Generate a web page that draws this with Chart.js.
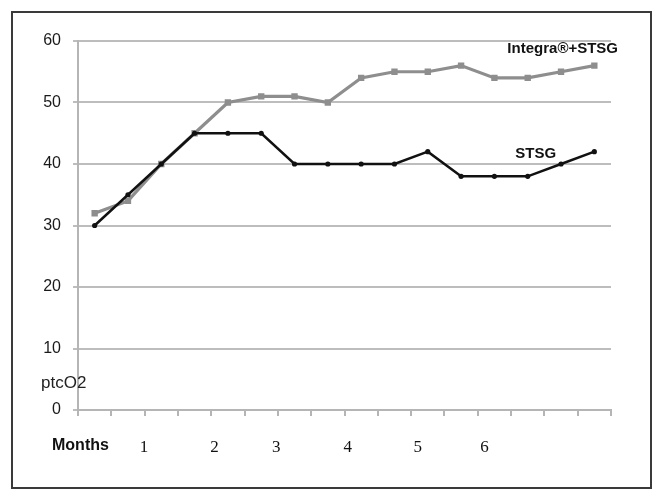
<!DOCTYPE html>
<html lang="en">
<head>
<meta charset="UTF-8">
<title>ptcO2 over months</title>
<script src="https://cdn.jsdelivr.net/npm/chart.js"></script>
<style>
    html, body { margin: 0; padding: 0; background: #fff; }
    #wrap { width: 661px; height: 501px; position: relative; }
</style>
</head>
<body>
<div id="wrap"><canvas id="myChart"></canvas></div>

<script>
// 16 measurement points along the time axis
const points = ['1','2','3','4','5','6','7','8','9','10','11','12','13','14','15','16'];
const integraValues = [32, 34, 40, 45, 50, 51, 51, 50, 54, 55, 55, 56, 54, 54, 55, 56];
const stsgValues    = [30, 35, 40, 45, 45, 45, 40, 40, 40, 40, 42, 38, 38, 38, 40, 42];
const yTicks = [0, 10, 20, 30, 40, 50, 60];
// month labels and where they sit on the axis (in category boundary units)
const monthLabels = ['1', '2', '3', '4', '5', '6'];
const monthAt     = [1.98, 4.1, 5.95, 8.1, 10.2, 12.2];

const sans = "'Liberation Sans Narrow', 'Liberation Sans', Arial, sans-serif";

// frame + free text (month labels, series names, axis words)
const extras = {
    id: 'extras',
    beforeDraw(chart) {
        const c = chart.ctx;
        c.save();
        c.fillStyle = '#fff';
        c.fillRect(0, 0, chart.width, chart.height);
        c.restore();
    },
    afterDraw(chart) {
        const c = chart.ctx;
        const x = chart.scales.x, y = chart.scales.y;
        c.save();
        // outer frame
        c.strokeStyle = '#3a3a3a';
        c.lineWidth = 2;
        c.strokeRect(12, 12, 639, 476);

        c.textBaseline = 'middle';
        c.fillStyle = '#111';
        // months word
        c.font = "bold 16px " + sans;
        c.textAlign = 'left';
        c.fillText('Months', 52, 446);
        // month numbers
        c.font = "17px 'Liberation Serif', 'Times New Roman', serif";
        c.textAlign = 'center';
        monthLabels.forEach((m, i) => {
            c.fillText(m, x.getPixelForValue(monthAt[i] - 0.5), 448);
        });
        // y axis word
        c.font = "17px " + sans;
        c.textAlign = 'left';
        c.fillStyle = '#222';
        c.fillText('ptcO2', 41, 383);
        // series names
        c.font = "bold 15px " + sans;
        c.textAlign = 'center';
        c.fillStyle = '#111';
        c.fillText('Integra\u00AE+STSG', x.getPixelForValue(14.05), y.getPixelForValue(58.8));
        c.fillText('STSG', x.getPixelForValue(13.24), y.getPixelForValue(41.6));
        c.restore();
    }
};

let ctx = document.getElementById('myChart').getContext('2d');
let myChart = new Chart(ctx, {
    type: 'line',
    data: {
        labels: points,
        datasets: [
            {
                label: 'STSG',
                data: stsgValues,
                borderColor: '#111',
                backgroundColor: '#111',
                borderWidth: 2.5,
                pointStyle: 'circle',
                pointRadius: 2.6,
                pointBorderWidth: 0,
                tension: 0
            },
            {
                label: 'Integra\u00AE+STSG',
                data: integraValues,
                borderColor: '#8e8e8e',
                backgroundColor: '#8e8e8e',
                borderWidth: 3.2,
                pointStyle: 'rect',
                pointRadius: 4.5,
                pointBorderWidth: 0,
                tension: 0
            }
        ]
    },
    options: {
        responsive: true,
        maintainAspectRatio: false,
        animation: false,
        layout: { padding: { top: 41, right: 50, bottom: 0, left: 0 } },
        plugins: {
            legend: { display: false },
            tooltip: { enabled: false }
        },
        scales: {
            x: {
                type: 'category',
                offset: true,
                grid: {
                    offset: true,
                    drawOnChartArea: false,
                    drawTicks: true,
                    tickLength: 6,
                    color: '#b5b5b5',
                    lineWidth: 2
                },
                border: { color: '#b5b5b5', width: 2 },
                ticks: { display: false },
                afterFit(scale) { scale.height = 91; }
            },
            y: {
                min: 0,
                max: 60,
                afterBuildTicks(scale) { scale.ticks = yTicks.map(v => ({ value: v })); },
                grid: {
                    color: '#bdbdbd',
                    lineWidth: 2,
                    drawTicks: true,
                    tickLength: 5
                },
                border: { color: '#b5b5b5', width: 2 },
                ticks: {
                    padding: 12,
                    color: '#1a1a1a',
                    font: { family: sans, size: 16 }
                },
                afterFit(scale) { scale.width = 78; }
            }
        }
    },
    plugins: [extras]
});
</script>
</body>
</html>
